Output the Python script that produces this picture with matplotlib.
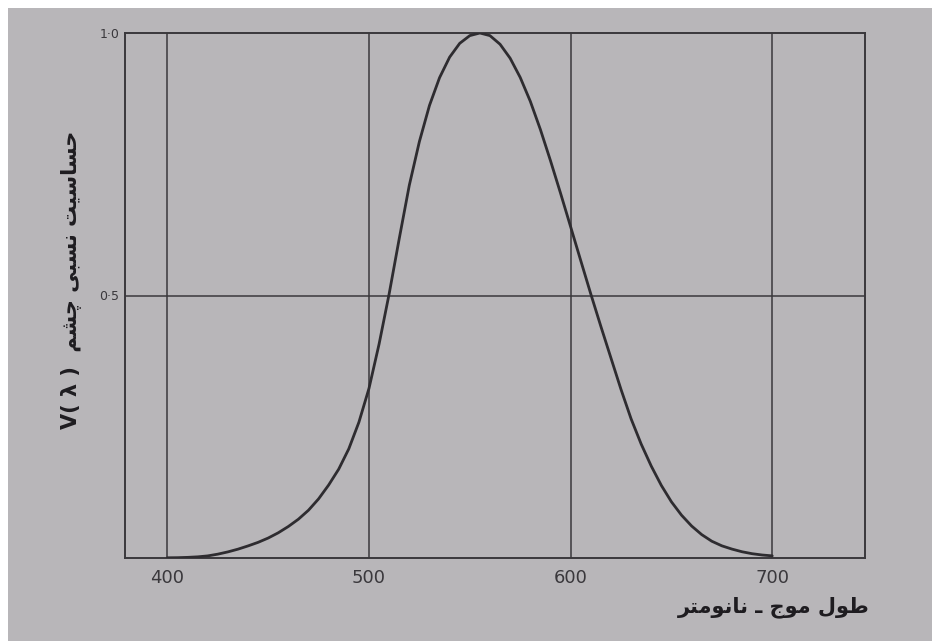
import matplotlib
matplotlib.use("Agg")
import matplotlib.pyplot as plt
from matplotlib.patches import Rectangle

# ---- data (CIE photopic luminous efficiency) ----
wavelength = [400, 405, 410, 415, 420, 425, 430, 435, 440, 445, 450, 455, 460, 465,
              470, 475, 480, 485, 490, 495, 500, 505, 510, 515, 520, 525, 530, 535,
              540, 545, 550, 555, 560, 565, 570, 575, 580, 585, 590, 595, 600, 605,
              610, 615, 620, 625, 630, 635, 640, 645, 650, 655, 660, 665, 670, 675,
              680, 685, 690, 695, 700]
v_lambda = [0.0004, 0.0006, 0.0012, 0.0022, 0.0040, 0.0073, 0.0116, 0.0168, 0.0230,
            0.0298, 0.0380, 0.0480, 0.0600, 0.0739, 0.0910, 0.1126, 0.1390, 0.1693,
            0.2080, 0.2586, 0.3230, 0.4073, 0.5030, 0.6082, 0.7100, 0.7932, 0.8620,
            0.9149, 0.9540, 0.9803, 0.9950, 1.0000, 0.9950, 0.9786, 0.9520, 0.9154,
            0.8700, 0.8163, 0.7570, 0.6949, 0.6310, 0.5668, 0.5030, 0.4412, 0.3810,
            0.3210, 0.2650, 0.2170, 0.1750, 0.1382, 0.1070, 0.0816, 0.0610, 0.0446,
            0.0320, 0.0232, 0.0170, 0.0119, 0.0082, 0.0057, 0.0041]
x_ticks = [400, 500, 600, 700]
x_tick_labels = ["400", "500", "600", "700"]
y_ticks = [0.5, 1.0]
y_tick_labels = ["0·5", "1·0"]
x_label = "طول موج ـ نانومتر"
y_label_fa = "حساسیت نسبی چشم"
y_label_sym = "V( λ )"

# ---- minimal Arabic/Persian shaping (presentation forms, visual order) ----
FORMS = {
    'ا': ('\uFE8D', '\uFE8E', None, None),
    'ب': ('\uFE8F', '\uFE90', '\uFE91', '\uFE92'),
    'ت': ('\uFE95', '\uFE96', '\uFE97', '\uFE98'),
    'ج': ('\uFE9D', '\uFE9E', '\uFE9F', '\uFEA0'),
    'چ': ('\uFB7A', '\uFB7B', '\uFB7C', '\uFB7D'),
    'ح': ('\uFEA1', '\uFEA2', '\uFEA3', '\uFEA4'),
    'ر': ('\uFEAD', '\uFEAE', None, None),
    'س': ('\uFEB1', '\uFEB2', '\uFEB3', '\uFEB4'),
    'ش': ('\uFEB5', '\uFEB6', '\uFEB7', '\uFEB8'),
    'ط': ('\uFEC1', '\uFEC2', '\uFEC3', '\uFEC4'),
    'ل': ('\uFEDD', '\uFEDE', '\uFEDF', '\uFEE0'),
    'م': ('\uFEE1', '\uFEE2', '\uFEE3', '\uFEE4'),
    'ن': ('\uFEE5', '\uFEE6', '\uFEE7', '\uFEE8'),
    'و': ('\uFEED', '\uFEEE', None, None),
    'ی': ('\uFBFC', '\uFBFD', '\uFBFE', '\uFBFF'),
}


def shape(text):
    out = []
    n = len(text)
    for i, ch in enumerate(text):
        if ch not in FORMS:
            out.append(ch)
            continue
        iso, fin, ini, med = FORMS[ch]
        prev = text[i - 1] if i > 0 else ''
        nxt = text[i + 1] if i < n - 1 else ''
        join_prev = prev in FORMS and FORMS[prev][2] is not None
        join_next = nxt in FORMS and ini is not None
        if join_prev and join_next:
            out.append(med)
        elif join_prev:
            out.append(fin)
        elif join_next:
            out.append(ini)
        else:
            out.append(iso)
    return ''.join(reversed(out))


# ---- figure ----
bg = '#b8b6b9'
ink = '#2e2c30'
fig = plt.figure(figsize=(9.32, 6.41), dpi=100, facecolor='white')
fig.patches.append(Rectangle((8 / 932, 0), 1, 1 - 8 / 641, transform=fig.transFigure,
                             facecolor=bg, edgecolor='none', zorder=-10))

ax = fig.add_axes([125 / 932, 1 - 558 / 641, 740 / 932, 525 / 641])
ax.set_facecolor(bg)
ax.plot(wavelength, v_lambda, color=ink, lw=2.0, zorder=3,
        solid_joinstyle='round', solid_capstyle='round')
for xv in x_ticks:
    ax.axvline(xv, color='#3a383c', lw=1.1, zorder=2)
ax.axhline(0.5, color='#3a383c', lw=1.1, zorder=2)

ax.set_xlim(379, 746)
ax.set_ylim(0, 1.0)
ax.set_xticks(x_ticks)
ax.set_xticklabels(x_tick_labels)
ax.set_yticks(y_ticks)
ax.set_yticklabels(y_tick_labels)
ax.tick_params(axis='both', length=0, colors='#3a383c')
ax.tick_params(axis='x', labelsize=13, pad=8)
ax.tick_params(axis='y', labelsize=9, pad=4)
for s in ax.spines.values():
    s.set_color('#3a383c')
    s.set_linewidth(1.4)

fig.text(870 / 932, 1 - 607 / 641, shape(x_label), ha='right', va='center',
         fontsize=15, color='#1e1c20', family=['DejaVu Sans'], fontweight='bold')
fig.text(72 / 932, 1 - 280 / 641, y_label_sym + "  " + shape(y_label_fa), rotation=90,
         ha='center', va='center', fontsize=15, color='#1e1c20',
         family=['DejaVu Sans'], fontweight='bold')

fig.savefig('out.png', dpi=100, facecolor=fig.get_facecolor())
